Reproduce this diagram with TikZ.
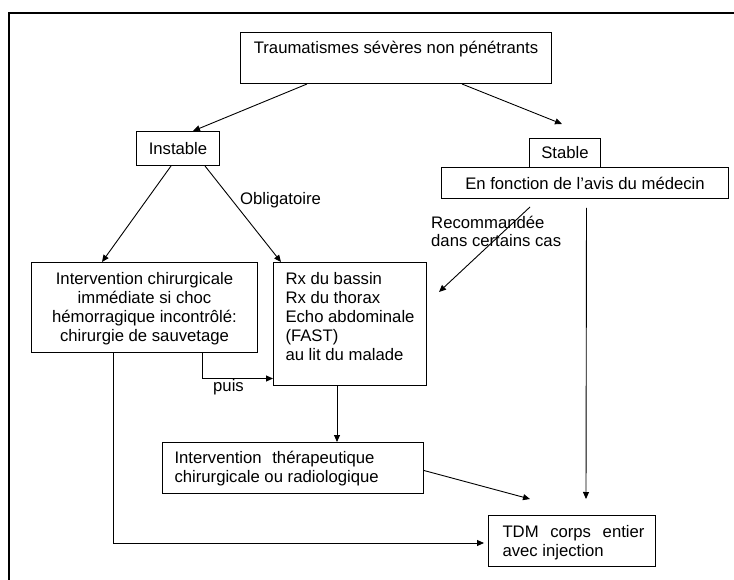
\documentclass[tikz,border=0pt]{standalone}
\usepackage{fontspec}
\setmainfont{Liberation Sans}
\usetikzlibrary{arrows.meta}
\newcommand{\bxt}[4]{\begin{minipage}[t][#2][t]{#1}\vspace*{#3}#4\end{minipage}}
\begin{document}
\begin{tikzpicture}[x=1pt,y=1pt,
  every node/.style={font=\fontsize{16.7}{19}\selectfont, inner sep=0pt},
  box/.style={draw, line width=1pt, anchor=north west},
  arr/.style={line width=0.9pt, -{Triangle[length=7pt,width=6pt]}},
  lbl/.style={anchor=base west}]
\clip (0,0) rectangle (734,-580);
\draw[line width=2pt] (9,-13) rectangle (760,-600);

\node[box] (top) at (240,-32) {\bxt{311pt}{51pt}{8.2pt}{\centering\strut Traumatismes sévères non pénétrants}};
\node[box, minimum width=83pt, minimum height=34pt] (inst) at (136,-131) {Instable};
\node[box, minimum width=71pt, minimum height=29pt] (stab) at (529,-138) {Stable};
\node[box, minimum width=287pt, minimum height=31pt] (fonc) at (441,-167) {En fonction de l’avis du médecin};
\node[box] (left) at (31,-262) {\bxt{226pt}{90pt}{9pt}{\centering\strut Intervention chirurgicale\\ immédiate si choc\\ hémorragique incontrôlé:\\ chirurgie de sauvetage}};
\node[box] (mid) at (273,-262) {\bxt{153pt}{123pt}{9pt}{\raggedright\leftskip=12pt\strut Rx du bassin\\ Rx du thorax\\ Echo abdominale\\ (FAST)\\ au lit du malade}};
\node[box] (ther) at (162,-442) {\bxt{261pt}{51pt}{8pt}{\raggedright\leftskip=12pt\strut\makebox[200pt][s]{Intervention thérapeutique}\\ chirurgicale ou radiologique}};
\node[box] (tdm) at (488,-515) {\bxt{167pt}{51pt}{9pt}{\raggedright\leftskip=14pt\strut\makebox[142pt][s]{TDM corps entier}\\ avec injection}};

\node[lbl] (oblig) at (240,-205) {Obligatoire};
\node[anchor=north west] (recom) at (431,-215) {\bxt{150pt}{40pt}{0pt}{\raggedright\baselineskip=18.4pt\strut Recommandée\\ dans certains cas}};
\node[lbl] (puis) at (213,-391) {puis};

\coordinate (stabend) at (562,-124);
\coordinate (recA) at (530,-207);
\coordinate (recB) at (439,-292);
\coordinate (vend) at (586,-499);
\coordinate (therend) at (530,-499);

\draw[arr] ([xshift=67pt]top.south west) -- ([xshift=57pt]inst.north west);
\draw[arr] ([xshift=222pt]top.south west) -- (stabend);
\draw[arr] ([xshift=35pt]inst.south west) -- ([xshift=71pt]left.north west);
\draw[arr] ([xshift=69pt]inst.south west) -- ([xshift=8pt]mid.north west);
\draw[arr] (recA) -- (recB);
\draw[arr] ([xshift=1.5pt,yshift=-9pt]fonc.south) -- (vend);
\draw[arr] ([xshift=171pt]left.south west) |- ([yshift=-54.5pt]mid.west);
\draw[arr] ([xshift=64pt]mid.south west) -- ([xshift=175pt]ther.north west);
\draw[arr] ([yshift=-2.5pt]ther.east) -- (therend);
\draw[arr, shorten >=4pt] ([xshift=82pt]left.south west) |- ([yshift=-2pt]tdm.west);
\end{tikzpicture}
\end{document}
